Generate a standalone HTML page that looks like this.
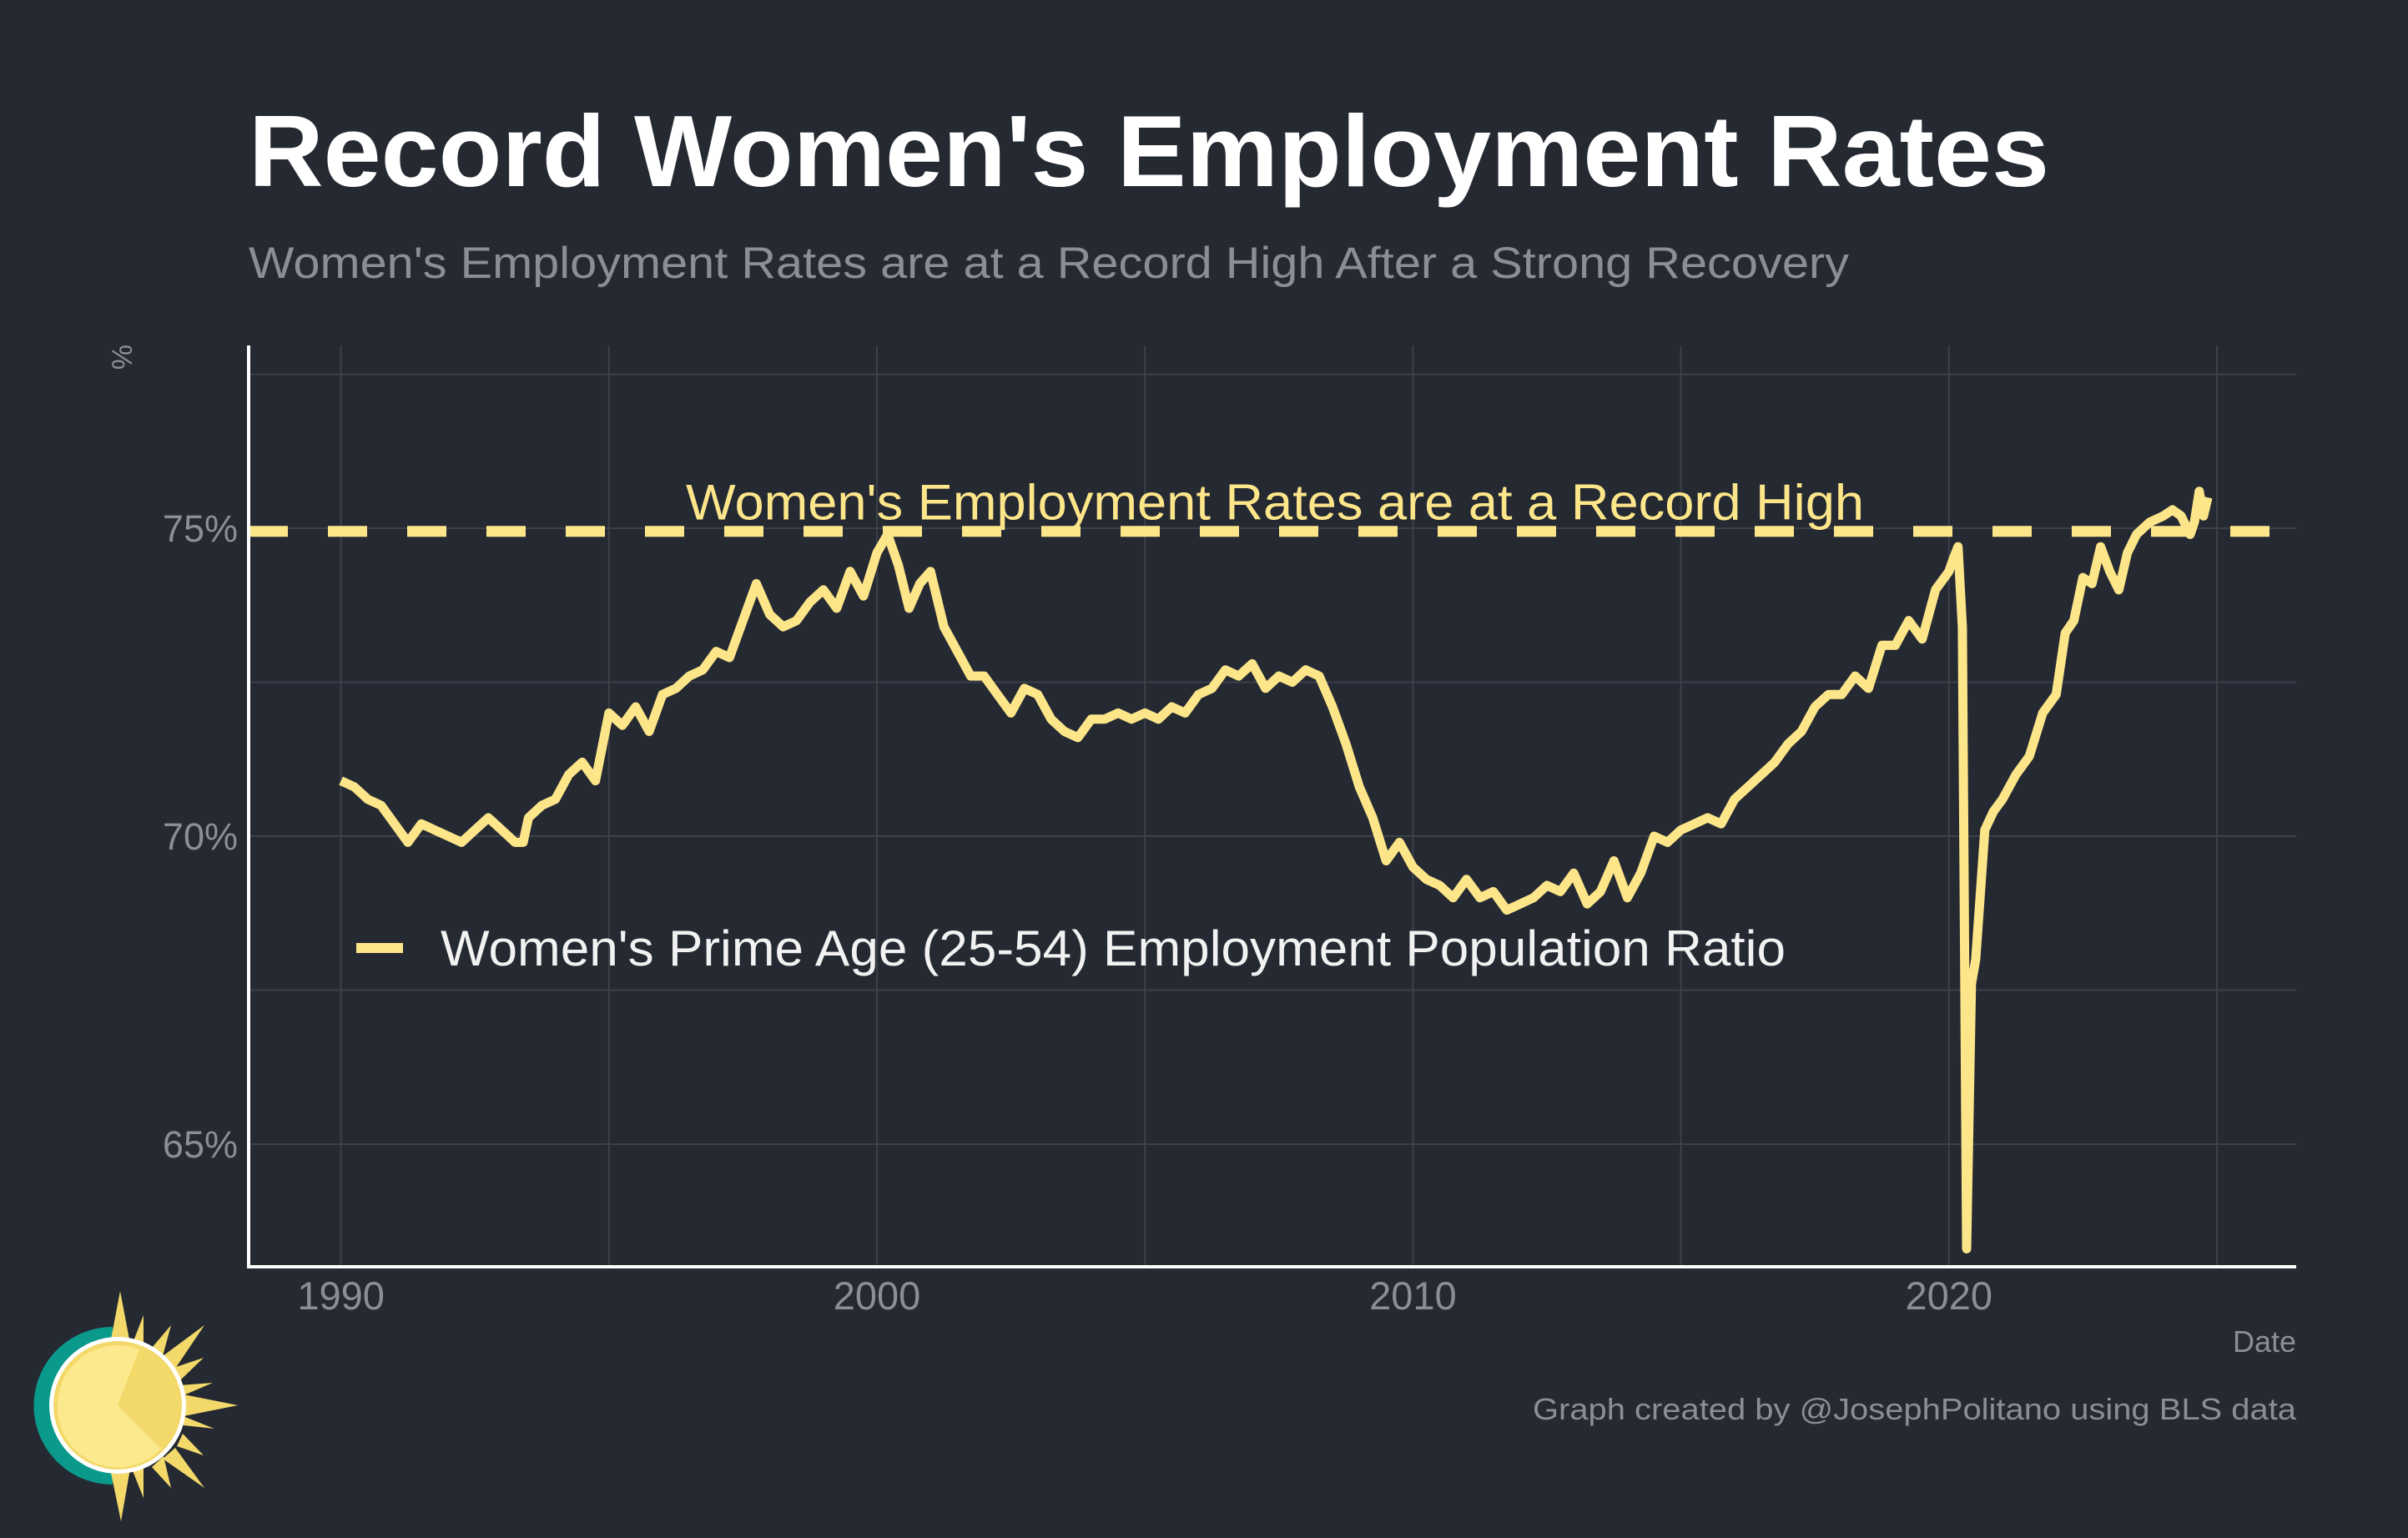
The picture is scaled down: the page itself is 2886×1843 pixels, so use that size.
<!DOCTYPE html>
<html><head><meta charset="utf-8"><style>
html,body{margin:0;padding:0;background:#252932;}
svg{display:block;font-family:"Liberation Sans",Arial,sans-serif;}
</style></head><body>
<svg id="chart" width="2886" height="1843" viewBox="0 0 2886 1843" xmlns="http://www.w3.org/2000/svg">
<rect x="0" y="0" width="2886" height="1843" fill="#252932"/>
<text x="298" y="223" font-size="122" font-weight="bold" fill="#ffffff" textLength="2158" lengthAdjust="spacingAndGlyphs">Record Women's Employment Rates</text>
<text x="298" y="333" font-size="53" fill="#8b8e95" textLength="1918" lengthAdjust="spacingAndGlyphs">Women's Employment Rates are at a Record High After a Strong Recovery</text>
<g id="grid"></g>
<g id="yticks"></g>
<g id="xticks"></g>
<text transform="translate(158,428) rotate(-90)" font-size="34" fill="#8b8e95" text-anchor="middle">%</text>
<line id="refline" stroke="#fde68a" stroke-width="13" stroke-dasharray="47 48"/>
<text id="reftext" font-size="60" fill="#fde68a" text-anchor="middle" textLength="1412" lengthAdjust="spacingAndGlyphs">Women's Employment Rates are at a Record High</text>
<path id="series" fill="none" stroke="#fde68a" stroke-width="11" stroke-linejoin="round" stroke-linecap="butt"/>
<line x1="298" y1="414" x2="298" y2="1520" stroke="#ffffff" stroke-width="4"/>
<line x1="296" y1="1518" x2="2752" y2="1518" stroke="#ffffff" stroke-width="4"/>
<g>
<line x1="427" y1="1136" x2="483" y2="1136" stroke="#fde68a" stroke-width="12"/>
<text x="528" y="1157" font-size="60" fill="#f2f2f2" textLength="1612" lengthAdjust="spacingAndGlyphs">Women's Prime Age (25-54) Employment Population Ratio</text>
</g>
<text x="2752" y="1620" font-size="36" fill="#8b8e95" text-anchor="end">Date</text>
<text x="2752" y="1701" font-size="36" fill="#8b8e95" text-anchor="end" textLength="915" lengthAdjust="spacingAndGlyphs">Graph created by @JosephPolitano using BLS data</text>
<g>
<path d="M135,1590 A94,94 0 0 0 135,1779 Z" fill="#0a9a8c"/>
<g fill="#f3d96a">
<polygon points="144,1547 156,1610 132,1610"/>
<polygon points="172,1576 172,1618 158,1612"/>
<polygon points="205,1588 195,1625 182,1615"/>
<polygon points="245,1588 210,1640 195,1625"/>
<polygon points="244,1627 215,1655 205,1640"/>
<polygon points="255,1657 220,1672 215,1660"/>
<polygon points="285,1684 220,1697 220,1671"/>
<polygon points="257,1712 220,1708 217,1696"/>
<polygon points="244,1744 212,1733 219,1718"/>
<polygon points="245,1783 195,1748 210,1735"/>
<polygon points="205,1783 182,1758 196,1745"/>
<polygon points="172,1795 158,1760 172,1752"/>
<polygon points="145,1823 132,1760 156,1760"/>
</g>
<circle cx="141" cy="1684" r="82" fill="#ffffff"/>
<circle cx="141" cy="1684" r="77" fill="#f3d96a"/>
<path d="M141,1684 L167,1617 A72,72 0 0 0 69,1684 A72,72 0 0 0 193,1736 Z" fill="#fde98d"/>
</g>
</svg>
<script>
const years = [1990.0,1990.25,1990.5,1990.75,1991.0,1991.25,1991.5,1991.75,1992.0,1992.25,1992.5,1992.75,1993.0,1993.25,1993.4,1993.5,1993.75,1994.0,1994.25,1994.5,1994.75,1995.0,1995.25,1995.5,1995.75,1996.0,1996.25,1996.5,1996.75,1997.0,1997.25,1997.5,1997.75,1998.0,1998.25,1998.5,1998.75,1999.0,1999.25,1999.5,1999.75,2000.0,2000.2,2000.4,2000.6,2000.8,2001.0,2001.25,2001.5,2001.75,2002.0,2002.25,2002.5,2002.75,2003.0,2003.25,2003.5,2003.75,2004.0,2004.25,2004.5,2004.75,2005.0,2005.25,2005.5,2005.75,2006.0,2006.25,2006.5,2006.75,2007.0,2007.25,2007.5,2007.75,2008.0,2008.25,2008.5,2008.75,2009.0,2009.25,2009.5,2009.75,2010.0,2010.25,2010.5,2010.75,2011.0,2011.25,2011.5,2011.75,2012.0,2012.25,2012.5,2012.75,2013.0,2013.25,2013.5,2013.75,2014.0,2014.25,2014.5,2014.75,2015.0,2015.25,2015.5,2015.75,2016.0,2016.25,2016.5,2016.75,2017.0,2017.25,2017.5,2017.75,2018.0,2018.25,2018.5,2018.75,2019.0,2019.25,2019.5,2019.75,2020.0,2020.08,2020.17,2020.25,2020.33,2020.42,2020.5,2020.58,2020.67,2020.83,2021.0,2021.25,2021.5,2021.75,2022.0,2022.17,2022.33,2022.5,2022.67,2022.83,2023.0,2023.17,2023.33,2023.5,2023.75,2024.0,2024.17,2024.33,2024.5,2024.58,2024.67,2024.75,2024.83];
const values = [70.9,70.8,70.6,70.5,70.2,69.9,70.2,70.1,70.0,69.9,70.1,70.3,70.1,69.9,69.9,70.3,70.5,70.6,71.0,71.2,70.9,72.0,71.8,72.1,71.7,72.3,72.4,72.6,72.7,73.0,72.9,73.5,74.1,73.6,73.4,73.5,73.8,74.0,73.7,74.3,73.9,74.6,74.9,74.4,73.7,74.1,74.3,73.4,73.0,72.6,72.6,72.3,72.0,72.4,72.3,71.9,71.7,71.6,71.9,71.9,72.0,71.9,72.0,71.9,72.1,72.0,72.3,72.4,72.7,72.6,72.8,72.4,72.6,72.5,72.7,72.6,72.1,71.5,70.8,70.3,69.6,69.9,69.5,69.3,69.2,69.0,69.3,69.0,69.1,68.8,68.9,69.0,69.2,69.1,69.4,68.9,69.1,69.6,69.0,69.4,70.0,69.9,70.1,70.2,70.3,70.2,70.6,70.8,71.0,71.2,71.5,71.7,72.1,72.3,72.3,72.6,72.4,73.1,73.1,73.5,73.2,74.0,74.3,74.5,74.7,73.4,63.3,67.6,68.0,69.0,70.1,70.4,70.6,71.0,71.3,72.0,72.3,73.3,73.5,74.2,74.1,74.7,74.3,74.0,74.6,74.9,75.1,75.2,75.3,75.2,74.9,75.1,75.6,75.2,75.5,74.9];
const yTickValues = [65,70,75];
const yTickLabels = ["65%","70%","75%"];
const yGridValues = [65,67.5,70,72.5,75,77.5];
const xTickValues = [1990,2000,2010,2020];
const xTickLabels = ["1990","2000","2010","2020"];
const xGridValues = [1990,1995,2000,2005,2010,2015,2020,2025];
const recordValue = [74.95];

const X0=298, X1=2752, Y0=414, Y1=1518;
function xs(yr){ return 408.6 + (yr-1990)*64.24; }
function ys(v){ return 633 + (75-v)*73.8; }
const NS="http://www.w3.org/2000/svg";
const grid=document.getElementById('grid');
yGridValues.forEach(v=>{
  const l=document.createElementNS(NS,'line');
  
  
  l.setAttribute('x1',X0);l.setAttribute('x2',X1);l.setAttribute('y1',ys(v));l.setAttribute('y2',ys(v));
  l.setAttribute('stroke','#3c4049');l.setAttribute('stroke-width','2');
  grid.appendChild(l);
});
xGridValues.forEach(v=>{
  const l=document.createElementNS(NS,'line');
  
  
  l.setAttribute('x1',xs(v));l.setAttribute('x2',xs(v));l.setAttribute('y1',Y0);l.setAttribute('y2',Y1);
  l.setAttribute('stroke','#3c4049');l.setAttribute('stroke-width','2');
  grid.appendChild(l);
});
const yt=document.getElementById('yticks');
yTickValues.forEach((v,i)=>{
  const t=document.createElementNS(NS,'text');
  
  
  t.setAttribute('x',285);t.setAttribute('y',ys(v)+16);
  t.setAttribute('text-anchor','end');t.setAttribute('font-size','45');t.setAttribute('fill','#8b8e95');
  t.textContent=yTickLabels[i];yt.appendChild(t);
});
const xt=document.getElementById('xticks');
xTickValues.forEach((v,i)=>{
  const t=document.createElementNS(NS,'text');
  
  
  t.setAttribute('x',xs(v));t.setAttribute('y',1569);
  t.setAttribute('text-anchor','middle');t.setAttribute('font-size','47');t.setAttribute('fill','#8b8e95');
  t.textContent=xTickLabels[i];xt.appendChild(t);
});
const rl=document.getElementById('refline');
rl.setAttribute('x1',X0);rl.setAttribute('x2',X1);
rl.setAttribute('y1',ys(recordValue[0]));rl.setAttribute('y2',ys(recordValue[0]));
const rt=document.getElementById('reftext');
rt.setAttribute('x',1528);rt.setAttribute('y',ys(recordValue[0])-14);
let d='';
years.forEach((yr,i)=>{ d+=(i?'L':'M')+xs(yr).toFixed(1)+','+ys(values[i]).toFixed(1); });
document.getElementById('series').setAttribute('d',d);
</script>
</body></html>
